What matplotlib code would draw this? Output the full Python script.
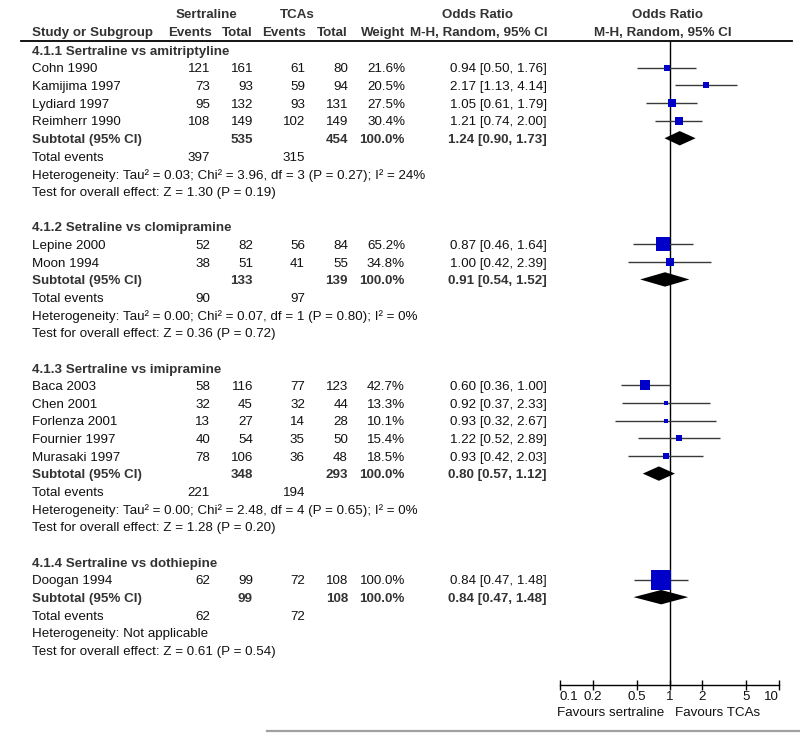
import matplotlib
matplotlib.use("Agg")
import matplotlib.pyplot as plt
from matplotlib.patches import Polygon
import numpy as np

plt.rcParams['font.family'] = ['Liberation Sans', 'DejaVu Sans']

# ---------------- data ----------------
group_titles = ["4.1.1 Sertraline vs amitriptyline",
                "4.1.2 Setraline vs clomipramine",
                "4.1.3 Sertraline vs imipramine",
                "4.1.4 Sertraline vs dothiepine"]

study_names = ["Cohn 1990", "Kamijima 1997", "Lydiard 1997", "Reimherr 1990",
               "Lepine 2000", "Moon 1994",
               "Baca 2003", "Chen 2001", "Forlenza 2001", "Fournier 1997", "Murasaki 1997",
               "Doogan 1994"]
study_group = [0, 0, 0, 0, 1, 1, 2, 2, 2, 2, 2, 3]
sert_events = [121, 73, 95, 108, 52, 38, 58, 32, 13, 40, 78, 62]
sert_total = [161, 93, 132, 149, 82, 51, 116, 45, 27, 54, 106, 99]
tca_events = [61, 59, 93, 102, 56, 41, 77, 32, 14, 35, 36, 72]
tca_total = [80, 94, 131, 149, 84, 55, 123, 44, 28, 50, 48, 108]
weights = [21.6, 20.5, 27.5, 30.4, 65.2, 34.8, 42.7, 13.3, 10.1, 15.4, 18.5, 100.0]
or_est = [0.94, 2.17, 1.05, 1.21, 0.87, 1.00, 0.60, 0.92, 0.93, 1.22, 0.93, 0.84]
or_lo = [0.50, 1.13, 0.61, 0.74, 0.46, 0.42, 0.36, 0.37, 0.32, 0.52, 0.42, 0.47]
or_hi = [1.76, 4.14, 1.79, 2.00, 1.64, 2.39, 1.00, 2.33, 2.67, 2.89, 2.03, 1.48]

sub_sert_total = [535, 133, 348, 99]
sub_tca_total = [454, 139, 293, 108]
sub_weight = [100.0, 100.0, 100.0, 100.0]
sub_or = [1.24, 0.91, 0.80, 0.84]
sub_lo = [0.90, 0.54, 0.57, 0.47]
sub_hi = [1.73, 1.52, 1.12, 1.48]
sub_sert_events = [397, 90, 221, 62]
sub_tca_events = [315, 97, 194, 72]
heterogeneity = ["Heterogeneity: Tau\u00b2 = 0.03; Chi\u00b2 = 3.96, df = 3 (P = 0.27); I\u00b2 = 24%",
                 "Heterogeneity: Tau\u00b2 = 0.00; Chi\u00b2 = 0.07, df = 1 (P = 0.80); I\u00b2 = 0%",
                 "Heterogeneity: Tau\u00b2 = 0.00; Chi\u00b2 = 2.48, df = 4 (P = 0.65); I\u00b2 = 0%",
                 "Heterogeneity: Not applicable"]
overall = ["Test for overall effect: Z = 1.30 (P = 0.19)",
           "Test for overall effect: Z = 0.36 (P = 0.72)",
           "Test for overall effect: Z = 1.28 (P = 0.20)",
           "Test for overall effect: Z = 0.61 (P = 0.54)"]

tick_values = [0.1, 0.2, 0.5, 1, 2, 5, 10]
tick_labels = ["0.1", "0.2", "0.5", "1", "2", "5", "10"]

# ---------------- layout ----------------
W, H = 800, 733
ROW0, STEP = 50.0, 17.65
TXT_OFF = 1.8
FS = 9.6
TXT = "#111111"
HDR = "#333333"

fig = plt.figure(figsize=(W / 100, H / 100), dpi=100)
bg = fig.add_axes([0, 0, 1, 1])
bg.set_xlim(0, W)
bg.set_ylim(H, 0)
bg.axis("off")

def ty(i):
    return ROW0 + STEP * i + TXT_OFF

X_NAME = 32
X_SE, X_ST, X_TE, X_TT, X_W, X_OR = 210, 253, 305, 348, 405, 547

def t(x, y, s, ha="left", bold=False, color=TXT):
    bg.text(x, y, s, ha=ha, va="center", fontsize=FS,
            fontweight="bold" if bold else "normal", color=color)

# header
t(206, 15, "Sertraline", "center", True, HDR)
t(297, 15, "TCAs", "center", True, HDR)
t(478, 15, "Odds Ratio", "center", True, HDR)
t(668, 15, "Odds Ratio", "center", True, HDR)
t(X_NAME, 33, "Study or Subgroup", "left", True, HDR)
t(X_SE + 2, 33, "Events", "right", True, HDR)
t(X_ST, 33, "Total", "right", True, HDR)
t(X_TE + 1, 33, "Events", "right", True, HDR)
t(X_TT, 33, "Total", "right", True, HDR)
t(X_W, 33, "Weight", "right", True, HDR)
t(X_OR + 1, 33, "M-H, Random, 95% CI", "right", True, HDR)
t(663, 33, "M-H, Random, 95% CI", "center", True, HDR)
bg.plot([21, 792], [41, 41], color="black", lw=1.3)
bg.plot([267, 800], [731, 731], color="#a0a0a0", lw=1.6)

# forest axes
x_left, x_right = 560, 779
y_top, y_bot = 41, 685
fa = fig.add_axes([x_left / W, 1 - y_bot / H, (x_right - x_left) / W, (y_bot - y_top) / H])
fa.set_xscale("log")
fa.set_xlim(0.1, 10)
fa.set_ylim((y_bot - ROW0) / STEP, (y_top - ROW0) / STEP)
fa.patch.set_alpha(0)
for s in ["top", "right", "left"]:
    fa.spines[s].set_visible(False)
fa.spines["bottom"].set_linewidth(1.0)
fa.set_yticks([])
fa.set_xticks(tick_values)
fa.set_xticklabels(tick_labels)
fa.xaxis.set_minor_locator(matplotlib.ticker.NullLocator())
fa.tick_params(axis="x", direction="inout", length=7, width=1.0, pad=1,
               labelsize=FS, labelcolor=TXT)
lbls = fa.get_xticklabels()
lbls[0].set_ha("left")
lbls[-1].set_ha("right")
fa.axvline(1, color="black", lw=1.0, zorder=1)
fa.set_clip_on(False)

def px_to_data_h(px):
    return px / STEP

row = 0
si = 0
for g, title in enumerate(group_titles):
    t(X_NAME, ty(row), title, bold=True, color=HDR)
    row += 1
    idx = [k for k, gg in enumerate(study_group) if gg == g]
    for k in idx:
        y = ty(row)
        t(X_NAME, y, study_names[k])
        t(X_SE, y, str(sert_events[k]), "right")
        t(X_ST, y, str(sert_total[k]), "right")
        t(X_TE, y, str(tca_events[k]), "right")
        t(X_TT, y, str(tca_total[k]), "right")
        t(X_W, y, f"{weights[k]:.1f}%", "right")
        t(X_OR, y, f"{or_est[k]:.2f} [{or_lo[k]:.2f}, {or_hi[k]:.2f}]", "right")
        fa.plot([or_lo[k], or_hi[k]], [row, row], color="#3a3a3a", lw=1.0, zorder=2,
                solid_capstyle="butt")
        side_px = 2.4 + 0.171 * weights[k]
        fa.plot([or_est[k]], [row], marker="s", ms=side_px * 0.72, mew=0,
                color="#0000c8", zorder=3, linestyle="none")
        row += 1
    y = ty(row)
    t(X_NAME, y, "Subtotal (95% CI)", bold=True, color=HDR)
    t(X_ST, y, str(sub_sert_total[g]), "right", True, HDR)
    t(X_TT, y, str(sub_tca_total[g]), "right", True, HDR)
    t(X_W, y, f"{sub_weight[g]:.1f}%", "right", True, HDR)
    t(X_OR, y, f"{sub_or[g]:.2f} [{sub_lo[g]:.2f}, {sub_hi[g]:.2f}]", "right", True, HDR)
    hh = px_to_data_h(7.2)
    fa.add_patch(Polygon([[sub_lo[g], row], [sub_or[g], row - hh], [sub_hi[g], row],
                          [sub_or[g], row + hh]], closed=True, color="black", zorder=4, lw=0))
    row += 1
    y = ty(row)
    t(X_NAME, y, "Total events")
    t(X_SE, y, str(sub_sert_events[g]), "right")
    t(X_TE, y, str(sub_tca_events[g]), "right")
    row += 1
    t(X_NAME, ty(row), heterogeneity[g])
    row += 1
    t(X_NAME, ty(row), overall[g])
    row += 2

t(664, 713, "Favours sertraline", "right")
t(675, 713, "Favours TCAs", "left")

fig.savefig("out.png", dpi=100)
